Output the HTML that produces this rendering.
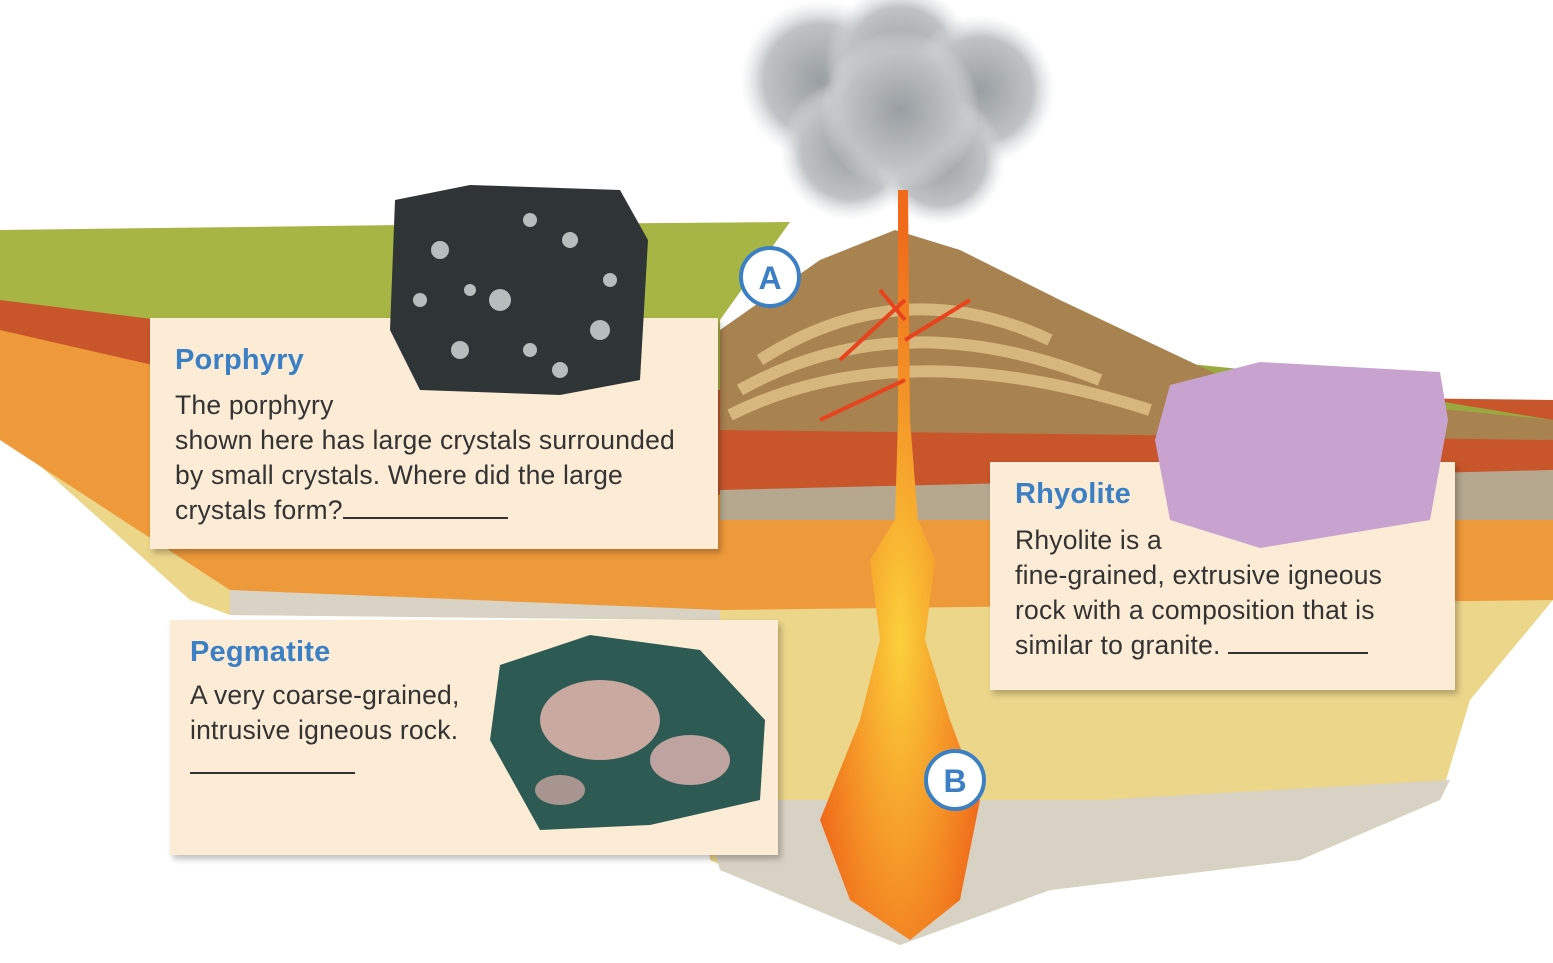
<!DOCTYPE html>
<html><head><meta charset="utf-8"><style>
body{margin:0;width:1553px;height:963px;background:#fff;overflow:hidden;position:relative;font-family:"Liberation Sans",sans-serif}
svg{position:absolute;left:0;top:0}
.box{position:absolute;background:#fcecd6;box-shadow:3px 4px 6px rgba(0,0,0,.25);color:#333;font-size:26.5px;line-height:35px;letter-spacing:0.2px}
.box h2{margin:0 0 10px 0;color:#3b7fc4;font-size:29px;line-height:36px;font-weight:bold}
.blank{display:inline-block;width:165px;border-bottom:2px solid #333;height:22px}
</style></head><body>
<svg width="1553" height="963">
<defs>
<radialGradient id="smoke" cx="50%" cy="50%" r="50%"><stop offset="0" stop-color="#9a9fa3"/><stop offset=".7" stop-color="#bfc3c5"/><stop offset="1" stop-color="#dfe1e2" stop-opacity="0"/></radialGradient>
<radialGradient id="magma" cx="50%" cy="60%" r="55%"><stop offset="0" stop-color="#fbd03a"/><stop offset="1" stop-color="#f06a1a"/></radialGradient>
</defs>
<g fill="url(#smoke)">
<circle cx="820" cy="80" r="80"/><circle cx="900" cy="60" r="75"/><circle cx="980" cy="90" r="75"/><circle cx="850" cy="150" r="70"/><circle cx="940" cy="160" r="65"/><circle cx="900" cy="110" r="80"/>
</g>
<path d="M0,400 L0,430 L190,600 L230,615 L700,620 L710,860 L800,900 L900,945 L1050,890 L1300,860 L1440,800 L1470,700 L1553,600 L1553,420 Z" fill="#ecd68a"/>
<path d="M700,800 L720,870 L900,945 L1050,890 L1300,860 L1440,800 L1450,780 L1100,800 Z" fill="#d8d2c4"/>
<path d="M230,545 L720,545 L720,620 L230,615 Z" fill="#d9d3c5"/>
<path d="M0,320 L720,430 L1553,440 L1553,600 L720,610 L230,590 L0,440 Z" fill="#ef9a3a"/>
<path d="M0,250 L720,390 L1553,400 L1553,470 L720,495 L0,330 Z" fill="#c9552a"/>
<path d="M720,490 L1553,470 L1553,520 L720,520 Z" fill="#b5a88e"/>
<path d="M0,230 L400,225 L790,222 L720,320 L720,390 L0,300 Z" fill="#a7b545"/>
<path d="M1150,360 L1250,370 L1553,420 L1553,440 L1200,400 Z" fill="#9aa840"/>
<path d="M720,330 L820,260 L895,230 L960,250 L1060,300 L1250,390 L1553,420 L1553,440 L720,430 Z" fill="#a8824f"/>
<path d="M760,360 Q900,270 1050,340 M740,390 Q900,300 1100,380 M730,415 Q900,330 1150,410" stroke="#d6b77d" stroke-width="12" fill="none"/>
<path d="M898,190 L908,190 L910,420 L918,520 L935,560 L925,640 L950,720 L980,800 L960,900 L910,940 L850,900 L820,820 L860,720 L880,640 L870,560 L895,520 L898,420 Z" fill="url(#magma)"/>
<path d="M905,300 L840,360 M905,340 L970,300 M905,380 L820,420 M905,320 L880,290" stroke="#e8431c" stroke-width="4"/>
<g><circle cx="770" cy="277" r="29" fill="#fff" stroke="#3b7fc4" stroke-width="4"/><text x="770" y="289" text-anchor="middle" font-size="32" font-weight="bold" fill="#3b7fc4" font-family="Liberation Sans">A</text></g>
<g><circle cx="955" cy="780" r="29" fill="#fff" stroke="#3b7fc4" stroke-width="4"/><text x="955" y="792" text-anchor="middle" font-size="32" font-weight="bold" fill="#3b7fc4" font-family="Liberation Sans">B</text></g>
</svg>
<div class="box" style="left:150px;top:318px;width:543px;height:204px;padding:24px 0 3px 25px"><h2>Porphyry</h2>The porphyry<br>shown here has large crystals surrounded<br>by small crystals. Where did the large<br>crystals form?<span class="blank"></span></div>
<svg width="1553" height="963" style="pointer-events:none"><path d="M395,200 L470,185 L620,190 L648,240 L640,380 L560,395 L420,390 L390,330 Z" fill="#2f3536"/><g fill="#b7bdbd"><circle cx="440" cy="250" r="9"/><circle cx="500" cy="300" r="11"/><circle cx="570" cy="240" r="8"/><circle cx="600" cy="330" r="10"/><circle cx="460" cy="350" r="9"/><circle cx="530" cy="220" r="7"/><circle cx="420" cy="300" r="7"/><circle cx="560" cy="370" r="8"/><circle cx="610" cy="280" r="7"/><circle cx="470" cy="290" r="6"/><circle cx="530" cy="350" r="7"/></g></svg>
<div class="box" style="left:170px;top:620px;width:588px;height:219px;padding:14px 0 2px 20px"><h2 style="margin-bottom:8px">Pegmatite</h2>A very coarse-grained,<br>intrusive igneous rock.<br><span class="blank"></span></div>
<svg width="1553" height="963" style="pointer-events:none"><path d="M500,665 L590,635 L700,650 L765,720 L760,800 L650,825 L540,830 L490,740 Z" fill="#2d5a52"/><ellipse cx="600" cy="720" rx="60" ry="40" fill="#c9a9a0"/><ellipse cx="690" cy="760" rx="40" ry="25" fill="#bfa3a0"/><ellipse cx="560" cy="790" rx="25" ry="15" fill="#a89590"/></svg>
<div class="box" style="left:990px;top:462px;width:440px;height:214px;padding:14px 0 0 25px"><h2 style="margin-bottom:11px">Rhyolite</h2>Rhyolite is a<br>fine-grained, extrusive igneous<br>rock with a composition that is<br>similar to granite. <span class="blank" style="width:140px"></span></div>
<svg width="1553" height="963" style="pointer-events:none"><path d="M1170,385 L1260,362 L1440,372 L1448,420 L1430,520 L1260,548 L1170,520 L1155,440 Z" fill="#c9a3d0"/></svg>
</body></html>
